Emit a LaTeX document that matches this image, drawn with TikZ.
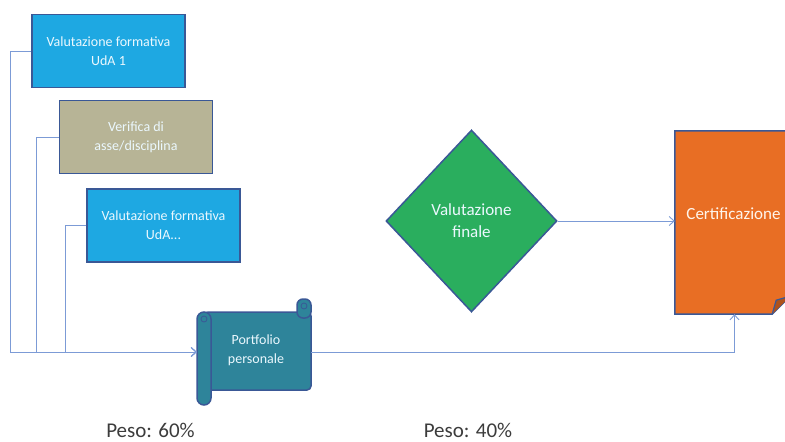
\documentclass[tikz,border=0pt]{standalone}
\usepackage{fontspec}
\setmainfont{Carlito}
\usepackage{tikz}
\usetikzlibrary{arrows.meta, positioning, calc, shapes}
\definecolor{boxcyan}{RGB}{30, 168, 226}
\definecolor{boxolive}{RGB}{183, 180, 150}
\definecolor{boxgreen}{RGB}{42, 174, 94}
\definecolor{boxorange}{RGB}{232, 110, 36}
\definecolor{boxteal}{RGB}{46, 132, 154}
\definecolor{edgeblue}{RGB}{58, 88, 150}
\definecolor{lineblue}{RGB}{124, 155, 214}
\definecolor{labelgray}{RGB}{60, 60, 60}

\begin{document}
\begin{tikzpicture}[x=1pt, y=-1pt,
    box/.style={draw=edgeblue, line width=1.5pt, minimum width=153pt, minimum height=73pt,
        align=center, text=white!92!cyan, font=\fontsize{14}{19}\selectfont},
    conn/.style={lineblue, line width=0.9pt},
    tip/.style={-{Straight Barb[length=5pt, width=9pt]}}]
    \useasboundingbox (0,0) rectangle (785,442);
    \clip (0,0) rectangle (785,442);

    % valutazioni di partenza
    \node[box, fill=boxcyan] (uda1) at (108.5,51) {Valutazione formativa\\UdA 1};
    \node[box, fill=boxolive] (asse) at (136,137) {Verifica di\\asse/disciplina};
    \node[box, fill=boxcyan] (udan) at (163.5,225.5) {Valutazione formativa\\UdA...};

    % rotolo del portfolio
    \node[minimum width=114pt, minimum height=107pt] (port) at (254,352) {};
    \begin{scope}[draw=edgeblue, line width=1.5pt, fill=boxteal]
        \filldraw[rounded corners=4pt] (204,312) -- (311,312) -- (311,390) -- (204,390) -- cycle;
        \filldraw[rounded corners=6pt] (297,299) -- (311,299) -- (311,318) -- (297,318) -- cycle;
        \filldraw (197,319) arc (180:360:7) -- (211,398) arc (0:180:7) -- cycle;
        \draw[line width=0.8pt] (204,319) circle (3pt);
        \draw[line width=0.8pt] (304,306) circle (3pt);
    \end{scope}
    \node[align=center, text=white!92!cyan, font=\fontsize{14}{19}\selectfont] (porttxt) at ($(port)+(2,-2)$) {Portfolio\\personale};

    % valutazione finale e certificazione
    \node[diamond, draw=edgeblue, line width=1.5pt, fill=boxgreen, minimum width=171pt,
        minimum height=182pt, inner sep=0pt, align=center, text=white!92!cyan,
        font=\fontsize{17}{22}\selectfont] (fin) at (471.5,221) {Valutazione\\finale};
    \node[minimum width=115pt, minimum height=183pt, inner sep=0pt] (cert) at (732.5,222.5) {};
    \filldraw[draw=edgeblue, line width=1.5pt, fill=boxorange]
        (cert.north west) -- (cert.north east) -- ($(cert.south east)+(0,-18)$)
        -- ($(cert.south east)+(-18,0)$) -- (cert.south west) -- cycle;
    \filldraw[draw=edgeblue, line width=1.2pt, fill=boxorange!75!black]
        ($(cert.south east)+(-18,0)$) -- ($(cert.south east)+(-14,-14)$) -- ($(cert.south east)+(0,-18)$);
    \node[text=white!92!orange, font=\fontsize{17}{20}\selectfont] (certtxt) at ($(cert)+(1,-9)$) {Certificazione};

    % collegamenti
    \draw[conn, tip] (uda1.west) -- ++(-21,0) |- (port.west);
    \draw[conn, tip] (asse.west) -- ++(-22,0) |- (port.west);
    \draw[conn, tip] (udan.west) -- ++(-21,0) |- (port.west);
    \draw[conn, tip] (port.east) -| ($(cert.south)+(2,0)$);
    \draw[conn, tip] (fin.east) -- (fin.east -| cert.west);

    \node[text=labelgray, font=\fontsize{21}{24}\selectfont, inner sep=0pt, anchor=base] (peso1) at (150.5,437) {Peso: 60\%};
    \node[text=labelgray, font=\fontsize{21}{24}\selectfont, inner sep=0pt, anchor=base] (peso2) at (468,437) {Peso: 40\%};
\end{tikzpicture}
\end{document}
